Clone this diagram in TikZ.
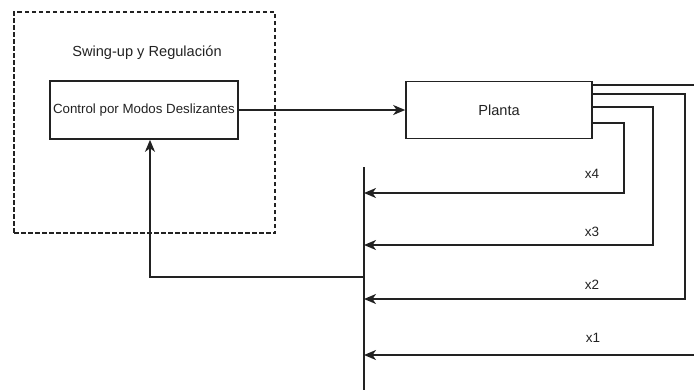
\documentclass[tikz,border=0pt]{standalone}
\usepackage{fontspec}
\setmainfont{Liberation Sans}
\usetikzlibrary{arrows.meta}
\definecolor{ink}{HTML}{222222}
\begin{document}
\begin{tikzpicture}[x=1pt,y=-1pt,
  ln/.style={draw=ink, line width=1.6pt},
  arr/.style={ln, -{Stealth[length=12pt,width=10pt,inset=3.5pt]}},
  box/.style={ln, rectangle, inner sep=0pt, text=ink},
  grp/.style={draw=ink, line width=1.4pt, dash pattern=on 4.5pt off 2.5pt, inner sep=0pt},
  lbl/.style={text=ink, font=\fontsize{13.5}{15}\selectfont, inner sep=0pt},
  big/.style={text=ink, font=\fontsize{14.6}{17}\selectfont, inner sep=0pt}]
\useasboundingbox (0,0) rectangle (694,389);
% group box
\node[grp, minimum width=261pt, minimum height=221pt] (group) at (144.5,122.5) {};
\node[big] (title) at (147,53) {Swing-up y Regulación};
% blocks
\node[box, minimum width=188pt, minimum height=58pt, font=\fontsize{13.3}{15}\selectfont] (ctrl) at (144,110) {Control por Modos Deslizantes};
\node[box, minimum width=186pt, minimum height=57pt, font=\fontsize{14.6}{17}\selectfont] (planta) at (499,110) {Planta};
\draw[arr] (ctrl.east) -- (planta.west);
% bus
\coordinate (bt) at (364,167);
\coordinate (bb) at (364,392);
\draw[ln] (bt) -- (bb);
\coordinate (b4) at (364,193);
\coordinate (b3) at (364,245);
\coordinate (b2) at (364,299);
\coordinate (b1) at (364,355);
\coordinate (fb) at (364,277);
% plant outputs
\coordinate (p1) at (592,85);
\coordinate (p2) at (592,94);
\coordinate (p3) at (592,107);
\coordinate (p4) at (592,123);
\draw[arr] (p4) -| (624,193) -- (b4);
\draw[arr] (p3) -| (653,245) -- (b3);
\draw[arr] (p2) -| (685,299) -- (b2);
\draw[arr] (p1) -| (699,355) -- (b1);
% labels
\node[lbl] (x4) at (592,174) {x4};
\node[lbl] (x3) at (592,232) {x3};
\node[lbl] (x2) at (592,285) {x2};
\node[lbl] (x1) at (593,338) {x1};
% feedback
\draw[arr] (fb) -| ([xshift=6pt]ctrl.south);
\end{tikzpicture}
\end{document}
